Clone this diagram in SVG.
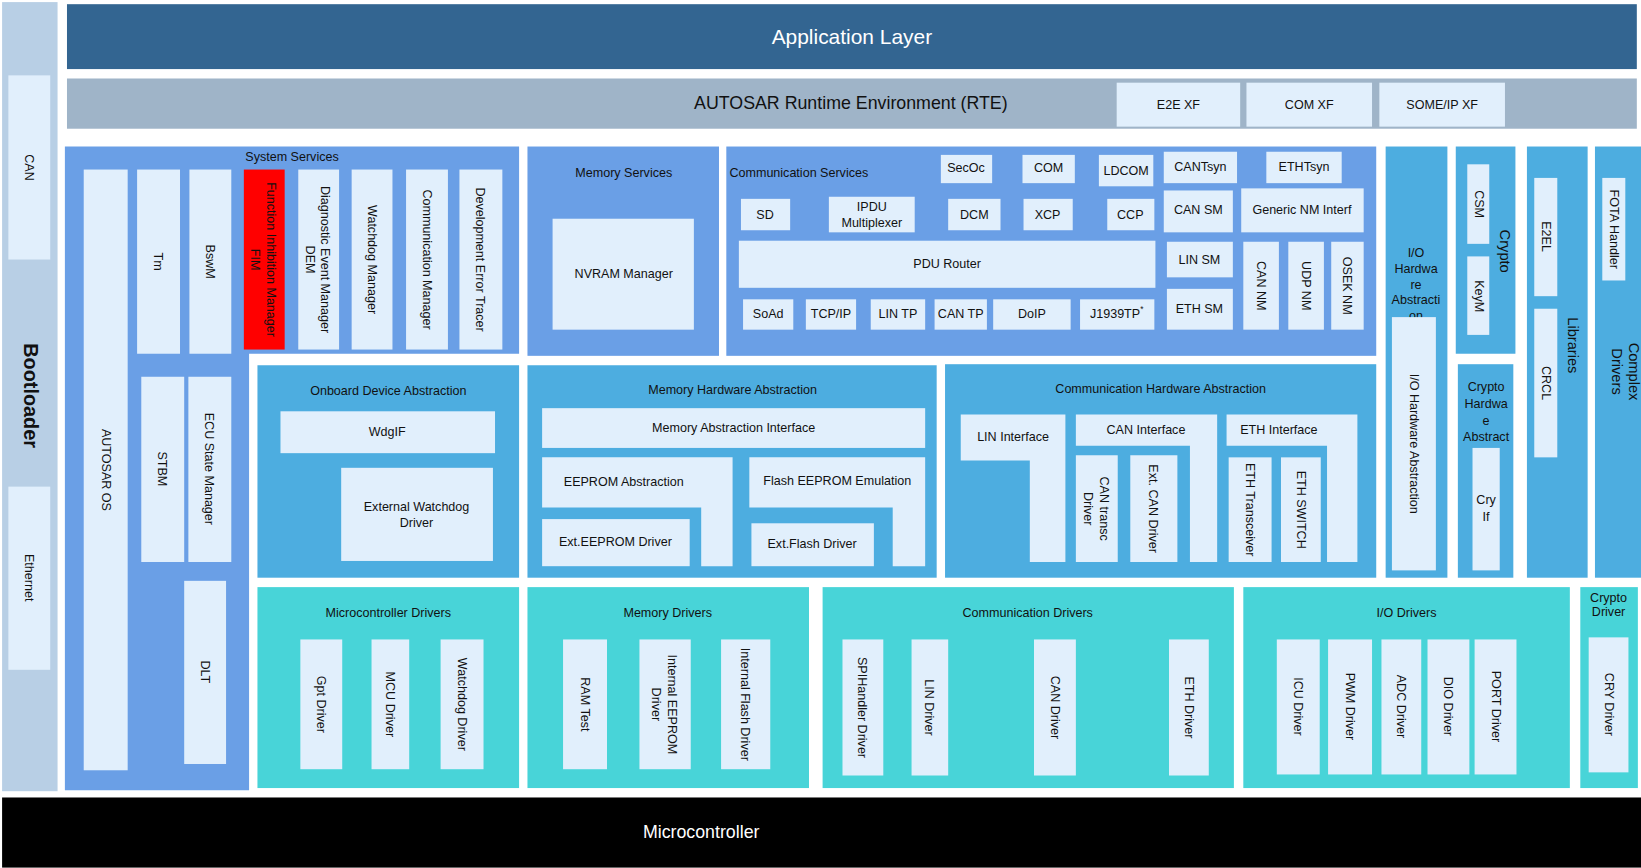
<svg xmlns="http://www.w3.org/2000/svg" width="1641" height="868" viewBox="0 0 1641 868">
<style>
text{font-family:"Liberation Sans",Arial,sans-serif;font-size:12px;fill:#111;text-anchor:middle;dominant-baseline:central}
.b{fill:#e1effc}
.ss{fill:#6a9fe6}
.ha{fill:#4dade0}
.dr{fill:#48d4d8}
.big{font-size:20px;fill:#fff}
</style>
<rect width="1641" height="868" fill="#fff"/>
<g transform="scale(1.04656)">
<g id="bootloader"><rect x="2" y="2" width="53" height="754" fill="#b8cfe5"/><rect class="b" x="8" y="72" width="40" height="176"/><text transform="translate(28,160) rotate(90)">CAN</text><rect class="b" x="8" y="465" width="40" height="175"/><text transform="translate(28,552) rotate(90)">Ethernet</text><text transform="translate(30,378) rotate(90)" style="font-size:19px;font-weight:bold">Bootloader</text></g>
<g id="app"><rect x="64" y="4" width="1500" height="62" fill="#336591"/><text class="big" x="814" y="35">Application Layer</text></g>
<g id="rte"><rect x="64" y="75" width="1500" height="48" fill="#9fb4c8"/><text x="813" y="98" style="font-size:17px">AUTOSAR Runtime Environment (RTE)</text>
<rect class="b" x="1067" y="79" width="118" height="42"/><text x="1126" y="100">E2E XF</text>
<rect class="b" x="1191" y="79" width="120" height="42"/><text x="1251" y="100">COM XF</text>
<rect class="b" x="1318" y="79" width="120" height="42"/><text x="1378" y="100">SOME/IP XF</text></g>
<g id="system-services"><path class="ss" d="M62,140H496V338H238V755H62Z"/><text x="279" y="150">System Services</text>
<rect class="b" x="80" y="162" width="42" height="574"/><text transform="translate(101,449) rotate(90)">AUTOSAR OS</text>
<rect class="b" x="131" y="162" width="41" height="176"/><text transform="translate(151,250) rotate(90)">Tm</text>
<rect class="b" x="181" y="162" width="40" height="176"/><text transform="translate(201,250) rotate(90)">BswM</text>
<rect x="233" y="162" width="39" height="172" fill="#f00"/><text transform="translate(252,248) rotate(90)"><tspan x="0" y="-7">Function  Inhibition Manager</tspan><tspan x="0" y="8">FIM</tspan></text>
<rect class="b" x="285" y="162" width="39" height="172"/><text transform="translate(304,248) rotate(90)"><tspan x="0" y="-7">Diagnostic Event Manager</tspan><tspan x="0" y="8">DEM</tspan></text>
<rect class="b" x="336" y="162" width="39" height="172"/><text transform="translate(355,248) rotate(90)">Watchdog Manager</text>
<rect class="b" x="388" y="162" width="40" height="172"/><text transform="translate(408,248) rotate(90)">Communication Manager</text>
<rect class="b" x="439" y="162" width="41" height="172"/><text transform="translate(459,248) rotate(90)">Development Error Tracer</text>
<rect class="b" x="135" y="360" width="41" height="177"/><text transform="translate(155,448) rotate(90)">STBM</text>
<rect class="b" x="180" y="360" width="41" height="177"/><text transform="translate(200,448) rotate(90)">ECU State Manager</text>
<rect class="b" x="176" y="555" width="40" height="175"/><text transform="translate(196,642) rotate(90)">DLT</text></g>
<g id="memory-services"><rect class="ss" x="504" y="140" width="183" height="200"/><text x="596" y="165">Memory Services</text><rect class="b" x="528" y="209" width="135" height="106"/><text x="596" y="262">NVRAM Manager</text></g>
<g id="comm-services"><rect class="ss" x="694" y="140" width="621" height="200"/><text x="697" y="165" style="text-anchor:start">Communication Services</text>
<rect class="b" x="899" y="148" width="49" height="27"/><text x="923" y="161">SecOc</text>
<rect class="b" x="977" y="148" width="50" height="27"/><text x="1002" y="161">COM</text>
<rect class="b" x="1050" y="148" width="52" height="30"/><text x="1076" y="163">LDCOM</text>
<rect class="b" x="1112" y="145" width="70" height="30"/><text x="1147" y="160">CANTsyn</text>
<rect class="b" x="1210" y="145" width="72" height="30"/><text x="1246" y="160">ETHTsyn</text>
<rect class="b" x="708" y="190" width="47" height="30"/><text x="731" y="205">SD</text>
<rect class="b" x="792" y="188" width="82" height="34"/><text x="833" y="205"><tspan x="833" y="198">IPDU</tspan><tspan x="833" y="213">Multiplexer</tspan></text>
<rect class="b" x="906" y="190" width="50" height="30"/><text x="931" y="205">DCM</text>
<rect class="b" x="978" y="190" width="47" height="30"/><text x="1001" y="205">XCP</text>
<rect class="b" x="1058" y="190" width="45" height="30"/><text x="1080" y="205">CCP</text>
<rect class="b" x="1112" y="182" width="66" height="40"/><text x="1145" y="201">CAN SM</text>
<rect class="b" x="1186" y="180" width="117" height="42"/><text x="1244" y="201">Generic NM Interf</text>
<rect class="b" x="706" y="230" width="398" height="45"/><text x="905" y="252">PDU Router</text>
<rect class="b" x="1115" y="231" width="63" height="34"/><text x="1146" y="248">LIN SM</text>
<rect class="b" x="1115" y="276" width="63" height="39"/><text x="1146" y="295">ETH SM</text>
<rect class="b" x="1188" y="231" width="34" height="84"/><text transform="translate(1205,273) rotate(90)">CAN NM</text>
<rect class="b" x="1231" y="231" width="34" height="84"/><text transform="translate(1248,273) rotate(90)">UDP NM</text>
<rect class="b" x="1272" y="231" width="31" height="84"/><text transform="translate(1287,273) rotate(90)">OSEK NM</text>
<rect class="b" x="710" y="286" width="48" height="29"/><text x="734" y="300">SoAd</text>
<rect class="b" x="770" y="286" width="48" height="29"/><text x="794" y="300">TCP/IP</text>
<rect class="b" x="832" y="286" width="52" height="29"/><text x="858" y="300">LIN TP</text>
<rect class="b" x="893" y="286" width="50" height="29"/><text x="918" y="300">CAN TP</text>
<rect class="b" x="949" y="286" width="74" height="29"/><text x="986" y="300">DoIP</text>
<rect class="b" x="1032" y="286" width="71" height="29"/><text x="1067" y="300">J1939TP<tspan dy="-5" style="font-size:8px">*</tspan></text></g>
<g id="io-hw-abstraction"><rect class="ha" x="1324" y="140" width="59" height="412"/><text x="1353" y="242"><tspan x="1353" y="242">I/O</tspan><tspan x="1353" y="257">Hardwa</tspan><tspan x="1353" y="272">re</tspan><tspan x="1353" y="287">Abstracti</tspan><tspan x="1353" y="302">on</tspan></text>
<rect class="b" x="1330" y="303" width="42" height="242"/><text transform="translate(1351,424) rotate(90)">I/O Hardware Abstraction</text></g>
<g id="crypto"><rect class="ha" x="1391" y="140" width="57" height="198"/><rect class="b" x="1402" y="157" width="21" height="76"/><text transform="translate(1413,195) rotate(90)">CSM</text><rect class="b" x="1402" y="245" width="21" height="75"/><text transform="translate(1413,283) rotate(90)">KeyM</text><text transform="translate(1438,240) rotate(90)" style="font-size:14px">Crypto</text></g>
<g id="crypto-hw"><rect class="ha" x="1393" y="348" width="53" height="204"/><text><tspan x="1420" y="370">Crypto</tspan><tspan x="1420" y="386">Hardwa</tspan><tspan x="1420" y="402">e</tspan><tspan x="1420" y="418">Abstract</tspan></text><rect class="b" x="1407" y="428" width="26" height="117"/><text><tspan x="1420" y="478">Cry</tspan><tspan x="1420" y="494">If</tspan></text></g>
<g id="libraries"><rect class="ha" x="1459" y="140" width="58" height="412"/><rect class="b" x="1466" y="170" width="22" height="113"/><text transform="translate(1477,226) rotate(90)">E2EL</text><rect class="b" x="1466" y="295" width="22" height="142"/><text transform="translate(1477,366) rotate(90)">CRCL</text><text transform="translate(1503,330) rotate(90)" style="font-size:14px">Libraries</text></g>
<g id="complex-drivers"><rect class="ha" x="1524" y="140" width="44" height="412"/><rect class="b" x="1531" y="170" width="22" height="98"/><text transform="translate(1542,219) rotate(90)">FOTA Handler</text><text transform="translate(1553,355) rotate(90)" style="font-size:14px"><tspan x="0" y="-8">Complex</tspan><tspan x="0" y="8">Drivers</tspan></text></g>
<g id="onboard"><rect class="ha" x="246" y="349" width="250" height="203"/><text x="371" y="374">Onboard Device Abstraction</text><rect class="b" x="268" y="393" width="205" height="40"/><text x="370" y="413">WdgIF</text><rect class="b" x="326" y="447" width="145" height="89"/><text><tspan x="398" y="484">External Watchdog</tspan><tspan x="398" y="500">Driver</tspan></text></g>
<g id="mem-hw"><rect class="ha" x="504" y="349" width="391" height="203"/><text x="700" y="373">Memory Hardware Abstraction</text><rect class="b" x="518" y="390" width="366" height="38"/><text x="701" y="409">Memory Abstraction Interface</text>
<path class="b" d="M518,437H700V541H670V485H518Z"/><text x="596" y="461">EEPROM Abstraction</text><rect class="b" x="518" y="496" width="141" height="45"/><text x="588" y="518">Ext.EEPROM Driver</text>
<path class="b" d="M716,437H884V541H853V485H716Z"/><text x="800" y="460">Flash EEPROM Emulation</text><rect class="b" x="718" y="500" width="117" height="41"/><text x="776" y="520">Ext.Flash Driver</text></g>
<g id="comm-hw"><rect class="ha" x="903" y="348" width="412" height="204"/><text x="1109" y="372">Communication Hardware Abstraction</text>
<path class="b" d="M918,396H1018V537H984V440H918Z"/><text x="968" y="418">LIN Interface</text>
<path class="b" d="M1028,396H1163V537H1137V426H1028Z"/><text x="1095" y="411">CAN Interface</text>
<rect class="b" x="1028" y="435" width="40" height="102"/><text transform="translate(1048,486) rotate(90)"><tspan x="0" y="-7">CAN transc</tspan><tspan x="0" y="8">Driver</tspan></text>
<rect class="b" x="1080" y="435" width="45" height="102"/><text transform="translate(1102,486) rotate(90)">Ext. CAN Driver</text>
<path class="b" d="M1172,396H1297V537H1268V426H1172Z"/><text x="1222" y="411">ETH Interface</text>
<rect class="b" x="1174" y="437" width="41" height="100"/><text transform="translate(1194,487) rotate(90)">ETH Transceiver</text>
<rect class="b" x="1224" y="437" width="38" height="100"/><text transform="translate(1243,487) rotate(90)">ETH SWITCH</text></g>
<g id="mcu-drivers"><rect class="dr" x="246" y="561" width="250" height="192"/><text x="371" y="586">Microcontroller Drivers</text>
<rect class="b" x="287" y="611" width="40" height="124"/><text transform="translate(307,673) rotate(90)">Gpt Driver</text>
<rect class="b" x="355" y="611" width="36" height="124"/><text transform="translate(373,673) rotate(90)">MCU Driver</text>
<rect class="b" x="421" y="611" width="41" height="124"/><text transform="translate(441,673) rotate(90)">Watchdog Driver</text></g>
<g id="mem-drivers"><rect class="dr" x="504" y="561" width="269" height="192"/><text x="638" y="586">Memory Drivers</text>
<rect class="b" x="538" y="611" width="42" height="124"/><text transform="translate(559,673) rotate(90)">RAM Test</text>
<rect class="b" x="611" y="611" width="49" height="124"/><text transform="translate(635,673) rotate(90)"><tspan x="0" y="-7">Internal EEPROM</tspan><tspan x="0" y="8">Driver</tspan></text>
<rect class="b" x="689" y="611" width="47" height="124"/><text transform="translate(712,673) rotate(90)">Internal Flash Driver</text></g>
<g id="comm-drivers"><rect class="dr" x="786" y="561" width="393" height="192"/><text x="982" y="586">Communication Drivers</text>
<rect class="b" x="805" y="611" width="39" height="130"/><text transform="translate(824,676) rotate(90)">SPIHandler Driver</text>
<rect class="b" x="871" y="611" width="35" height="130"/><text transform="translate(888,676) rotate(90)">LIN Driver</text>
<rect class="b" x="988" y="611" width="40" height="130"/><text transform="translate(1008,676) rotate(90)">CAN Driver</text>
<rect class="b" x="1117" y="611" width="38" height="130"/><text transform="translate(1136,676) rotate(90)">ETH Driver</text></g>
<g id="io-drivers"><rect class="dr" x="1188" y="561" width="312" height="192"/><text x="1344" y="586">I/O Drivers</text>
<rect class="b" x="1220" y="611" width="41" height="129"/><text transform="translate(1240,675) rotate(90)">ICU Driver</text>
<rect class="b" x="1269" y="611" width="42" height="129"/><text transform="translate(1290,675) rotate(90)">PWM Driver</text>
<rect class="b" x="1320" y="611" width="38" height="129"/><text transform="translate(1339,675) rotate(90)">ADC Driver</text>
<rect class="b" x="1364" y="611" width="40" height="129"/><text transform="translate(1384,675) rotate(90)">DIO Driver</text>
<rect class="b" x="1409" y="611" width="40" height="129"/><text transform="translate(1429,675) rotate(90)">PORT  Driver</text></g>
<g id="crypto-driver"><rect class="dr" x="1510" y="561" width="55" height="192"/><text><tspan x="1537" y="571">Crypto</tspan><tspan x="1537" y="585">Driver</tspan></text><rect class="b" x="1518" y="609" width="38" height="129"/><text transform="translate(1537,673) rotate(90)">CRY Driver</text></g>
<g id="microcontroller"><rect x="2" y="762" width="1566" height="67" fill="#000"/><text class="big" x="670" y="795" style="font-size:17px">Microcontroller</text></g>
<g id="connectors"/>
</g>
</svg>
